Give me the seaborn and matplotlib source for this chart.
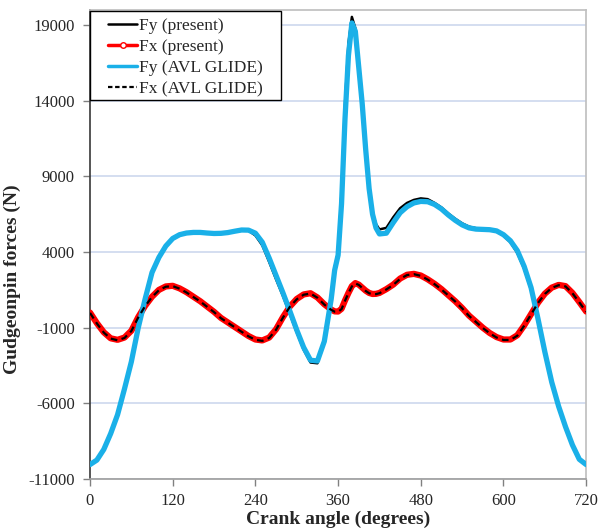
import matplotlib
matplotlib.use('Agg')
import matplotlib.pyplot as plt
from matplotlib.lines import Line2D
from matplotlib.patches import Rectangle
import seaborn as sns

# Crank angle (degrees), shared by all series
angle = [0, 10, 20, 30, 40, 50, 60, 70, 80, 90, 100, 110, 120, 130, 140, 150,
         160, 170, 180, 190, 200, 210, 220, 230, 240, 250, 260, 270, 280, 290,
         300, 310, 320, 330, 340, 350, 355, 360, 365, 370, 375, 380, 385, 390,
         395, 400, 405, 410, 415, 420, 430, 440, 450, 460, 470, 480, 490, 500,
         510, 520, 530, 540, 550, 560, 570, 580, 590, 600, 610, 620, 630, 640,
         650, 660, 670, 680, 690, 700, 710, 720]

fy_present = [-10050, -9750, -9050, -8000, -6750, -5050, -3250, -1000, 900, 2650,
              3650, 4400, 4900, 5150, 5260, 5300, 5300, 5260, 5230, 5240,
              5290, 5380, 5460, 5420, 5100, 4450, 3350, 2200, 1100, -100,
              -1300, -2450, -3300, -3350, -1950, 1000, 3000, 4000, 8000, 13800,
              17800, 19550, 18800, 16000, 13500, 10500, 8300, 6600, 5850, 5500,
              5600, 6300, 6900, 7250, 7450, 7550, 7500, 7250, 6950, 6550,
              6200, 5900, 5680, 5580, 5540, 5500, 5380, 5080, 4650, 3950,
              2900, 1500, -550, -2700, -4600, -6200, -7550, -8750, -9700, -10050]

fx_present = [0, -700, -1300, -1700, -1800, -1650, -1200, -300, 450, 1050,
              1500, 1730, 1770, 1600, 1350, 1050, 750, 400, 50, -350,
              -650, -950, -1250, -1550, -1780, -1840, -1650, -1100, -300, 400,
              900, 1200, 1280, 1000, 550, 200, 80, 70, 250, 800,
              1300, 1750, 1950, 1850, 1650, 1450, 1300, 1230, 1240, 1300,
              1550, 1850, 2250, 2500, 2560, 2450, 2200, 1900, 1550, 1150,
              750, 300, -200, -600, -1000, -1350, -1620, -1780, -1780, -1500,
              -850, -100, 650, 1250, 1650, 1830, 1750, 1300, 700, 70]

fy_avl = [-10050, -9750, -9050, -8000, -6750, -5050, -3250, -1000, 900, 2650,
          3650, 4400, 4900, 5150, 5260, 5300, 5300, 5260, 5230, 5240,
          5290, 5380, 5460, 5450, 5250, 4650, 3600, 2450, 1300, 100,
          -1150, -2300, -3150, -3200, -1900, 900, 2800, 3800, 7200, 12800,
          17000, 19150, 18600, 16200, 13800, 10800, 8200, 6500, 5600, 5200,
          5250, 5950, 6600, 7000, 7250, 7350, 7330, 7150, 6850, 6450,
          6100, 5800, 5600, 5520, 5500, 5480, 5400, 5150, 4750, 4100,
          3050, 1650, -400, -2600, -4600, -6200, -7550, -8750, -9700, -10050]

fx_avl = [-20, -720, -1320, -1720, -1830, -1680, -1220, -320, 430, 1030,
          1480, 1710, 1750, 1580, 1330, 1030, 730, 380, 30, -370,
          -670, -970, -1270, -1570, -1800, -1870, -1680, -1130, -330, 380,
          880, 1180, 1260, 980, 530, 180, 60, 50, 230, 780,
          1280, 1730, 1930, 1830, 1630, 1430, 1280, 1210, 1220, 1280,
          1530, 1830, 2230, 2480, 2540, 2430, 2180, 1880, 1530, 1130,
          730, 280, -220, -620, -1020, -1370, -1650, -1810, -1810, -1530,
          -870, -120, 630, 1230, 1630, 1810, 1730, 1280, 680, 50]

x_ticks = [0, 120, 240, 360, 480, 600, 720]
y_ticks = [-11000, -6000, -1000, 4000, 9000, 14000, 19000]
labels = ['Fy (present)', 'Fx (present)', 'Fy (AVL GLIDE)', 'Fx (AVL GLIDE)']

sns.set_theme(style="white")
plt.rcParams['font.family'] = ['Liberation Serif', 'DejaVu Serif']
plt.rcParams['axes.unicode_minus'] = False

fig = plt.figure(figsize=(6, 5.31), dpi=100)
ax = fig.add_axes([0.15, 0.098, 0.827, 0.883])

red = '#ff0000'
blue = '#1ab0e8'

sns.lineplot(x=angle, y=fy_present, ax=ax, color='black', lw=1.8, zorder=3)
sns.lineplot(x=angle, y=fx_present, ax=ax, color=red, lw=4.5, zorder=4)
sns.lineplot(x=angle, y=fy_avl, ax=ax, color=blue, lw=3.8, zorder=5)
sns.lineplot(x=angle, y=fx_avl, ax=ax, color='black', lw=1.6,
             dashes=(3, 2), zorder=6)

ax.set_xlim(0, 720)
ax.set_ylim(-11000, 20000)
ax.set_xticks(x_ticks)
ax.set_yticks(y_ticks)
ax.tick_params(labelsize=12, length=5, width=1, color='#808080',
               direction='out', bottom=True, left=True)
ax.tick_params(axis='y', pad=6)
ax.tick_params(axis='x', pad=5)
ax.grid(axis='y', color='#cdd8ee', lw=1.2)
ax.set_axisbelow(True)

for s in ['top', 'right']:
    ax.spines[s].set_color('#c0c0c0')
ax.spines['left'].set_color('#404040')
ax.spines['bottom'].set_color('#a0a0a0')

ax.set_xlabel('Crank angle (degrees)', fontsize=14, fontweight='bold', labelpad=1)
ax.set_ylabel('Gudgeonpin forces (N)', fontsize=14, fontweight='bold')
ax.yaxis.set_label_coords(-0.14, 0.426)

# legend box drawn by hand (wider padding than matplotlib's frame)
ax.add_patch(Rectangle((0, 0.808), 0.385, 0.19, transform=ax.transAxes,
                       facecolor='white', edgecolor='black', lw=1.0,
                       zorder=9, clip_on=False))
handles = [
    Line2D([], [], color='black', lw=1.8),
    Line2D([], [], color=red, lw=2.5, marker='o', ms=4, mfc='white', mec=red),
    Line2D([], [], color=blue, lw=2.5),
    Line2D([], [], color='black', lw=1.6, dashes=(2, 1.2)),
]
leg = ax.legend(handles, labels, loc='upper left', bbox_to_anchor=(0.036, 0.983),
                fontsize=12.5, frameon=False, borderaxespad=0, borderpad=0,
                handlelength=1.7, handletextpad=0.1, labelspacing=0.28)
leg.set_zorder(10)

fig.savefig('out.png', dpi=100)
